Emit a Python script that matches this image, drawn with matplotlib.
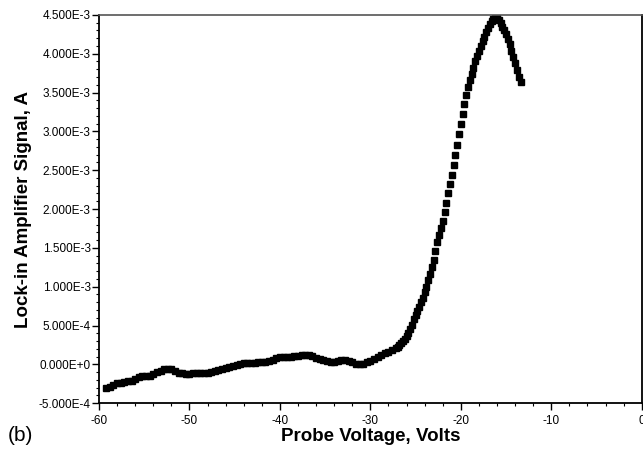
import numpy as np
import matplotlib
matplotlib.use("Agg")
import matplotlib.pyplot as plt
from matplotlib.ticker import MultipleLocator, FuncFormatter

plt.rcParams["font.family"] = ["Liberation Sans", "DejaVu Sans"]
plt.rcParams["axes.unicode_minus"] = False

# probe voltage sweep (V)
volts = [
    -59.2, -58.8, -58.4, -58.0, -57.6, -57.2, -56.8, -56.4, -56.0,
    -55.6, -55.2, -54.8, -54.4, -54.0, -53.6, -53.2, -52.8, -52.4,
    -52.0, -51.6, -51.2, -50.8, -50.4, -50.0, -49.6, -49.2, -48.8,
    -48.4, -48.0, -47.6, -47.2, -46.8, -46.4, -46.0, -45.6, -45.2,
    -44.8, -44.4, -44.0, -43.6, -43.2, -42.8, -42.4, -42.0, -41.6,
    -41.2, -40.8, -40.4, -40.0, -39.6, -39.2, -38.8, -38.4, -38.0,
    -37.6, -37.2, -36.8, -36.4, -36.0, -35.6, -35.2, -34.8, -34.4,
    -34.0, -33.6, -33.2, -32.8, -32.4, -32.0, -31.6, -31.2, -30.8,
    -30.4, -30.0, -29.6, -29.2, -28.8, -28.4, -28.0, -27.6, -27.2,
    -27.0, -26.8, -26.6, -26.4, -26.2, -26.0, -25.8, -25.6, -25.4, -25.2,
    -25.0, -24.8, -24.6, -24.4, -24.2, -24.0, -23.8, -23.6, -23.4, -23.2,
    -23.0, -22.8, -22.6, -22.4, -22.2, -22.0, -21.8, -21.6, -21.4, -21.2,
    -21.0, -20.8, -20.6, -20.4, -20.2, -20.0, -19.8, -19.6, -19.4, -19.2,
    -19.0, -18.8, -18.6, -18.4, -18.2, -18.0, -17.8, -17.6, -17.4, -17.2,
    -17.0, -16.8, -16.6, -16.4, -16.2, -16.0, -15.8, -15.6, -15.4, -15.2,
    -15.0, -14.8, -14.6, -14.4, -14.2, -14.0, -13.8, -13.6, -13.4,
]

# lock-in signal, in units of 1e-4 A
signal_e4 = [
    -3.1, -2.9, -2.6, -2.45, -2.35, -2.25, -2.15, -2.1, -1.9,
    -1.6, -1.5, -1.45, -1.45, -1.3, -1.0, -0.8, -0.6, -0.55,
    -0.65, -0.85, -1.05, -1.15, -1.2, -1.2, -1.15, -1.1, -1.1,
    -1.1, -1.05, -0.95, -0.85, -0.75, -0.65, -0.5, -0.35, -0.2,
    -0.05, 0.1, 0.15, 0.15, 0.15, 0.2, 0.25, 0.3, 0.35,
    0.45, 0.6, 0.85, 1.0, 1.0, 1.0, 1.0, 1.05, 1.1,
    1.2, 1.25, 1.2, 1.05, 0.85, 0.7, 0.55, 0.45, 0.35,
    0.35, 0.45, 0.5, 0.5, 0.4, 0.25, 0.1, 0.05, 0.1,
    0.25, 0.4, 0.65, 0.9, 1.15, 1.4, 1.6, 1.85, 2.1,
    2.3, 2.5, 2.7, 2.95, 3.3, 3.7, 4.1, 4.5, 5.1, 5.8,
    6.4, 6.9, 7.4, 8.0, 8.6, 9.3, 10.0, 10.8, 11.6, 12.5,
    13.5, 14.6, 15.7, 16.7, 17.6, 18.5, 19.6, 20.8, 22.0, 23.2,
    24.4, 25.7, 27.0, 28.3, 29.6, 30.9, 32.2, 33.5, 34.7, 35.7,
    36.6, 37.4, 38.2, 39.0, 39.7, 40.4, 41.0, 41.6, 42.2, 42.8,
    43.3, 43.8, 44.2, 44.5, 44.6, 44.6, 44.4, 44.0, 43.5, 43.0,
    42.5, 41.9, 41.2, 40.4, 39.6, 38.8, 37.9, 37.0, 36.3,
]

x = np.array(volts)
y = np.array(signal_e4) * 1e-4


def sci_label(v, pos):
    if abs(v) < 1e-12:
        return "0.000E+0"
    e = int(np.floor(np.log10(abs(v)) + 1e-9))
    m = v / 10 ** e
    return f"{m:.3f}E{e:+d}"


fig = plt.figure(figsize=(6.43, 4.5), dpi=100)
ax = fig.add_axes([0.154, 0.104, 0.844, 0.863])

ax.plot(x, y, ls="none", marker="s", ms=5.0, color="black", mec="black")

ax.set_xlim(-60, 0)
ax.set_ylim(-5e-4, 4.5e-3)
ax.xaxis.set_major_locator(MultipleLocator(10))
ax.xaxis.set_minor_locator(MultipleLocator(2))
ax.yaxis.set_major_locator(MultipleLocator(5e-4))
ax.yaxis.set_minor_locator(MultipleLocator(1e-4))
ax.yaxis.set_major_formatter(FuncFormatter(sci_label))

ax.tick_params(which="major", length=5, width=1, labelsize=8.5, color="black")
ax.tick_params(axis="y", which="major", pad=1)
ax.tick_params(which="minor", length=2.5, width=0.8)
for s in ["left", "bottom", "right"]:
    ax.spines[s].set_linewidth(1.3)
ax.spines["top"].set_linewidth(1.2)
ax.spines["top"].set_color("#555555")

ax.set_xlabel("Probe Voltage, Volts", fontsize=13.5, fontweight="bold", labelpad=1)
ax.set_ylabel("Lock-in Amplifier Signal, A", fontsize=13.5, fontweight="bold", labelpad=5)
fig.text(0.012, 0.02, "(b)", fontsize=15)

fig.savefig("out.png", dpi=100)
